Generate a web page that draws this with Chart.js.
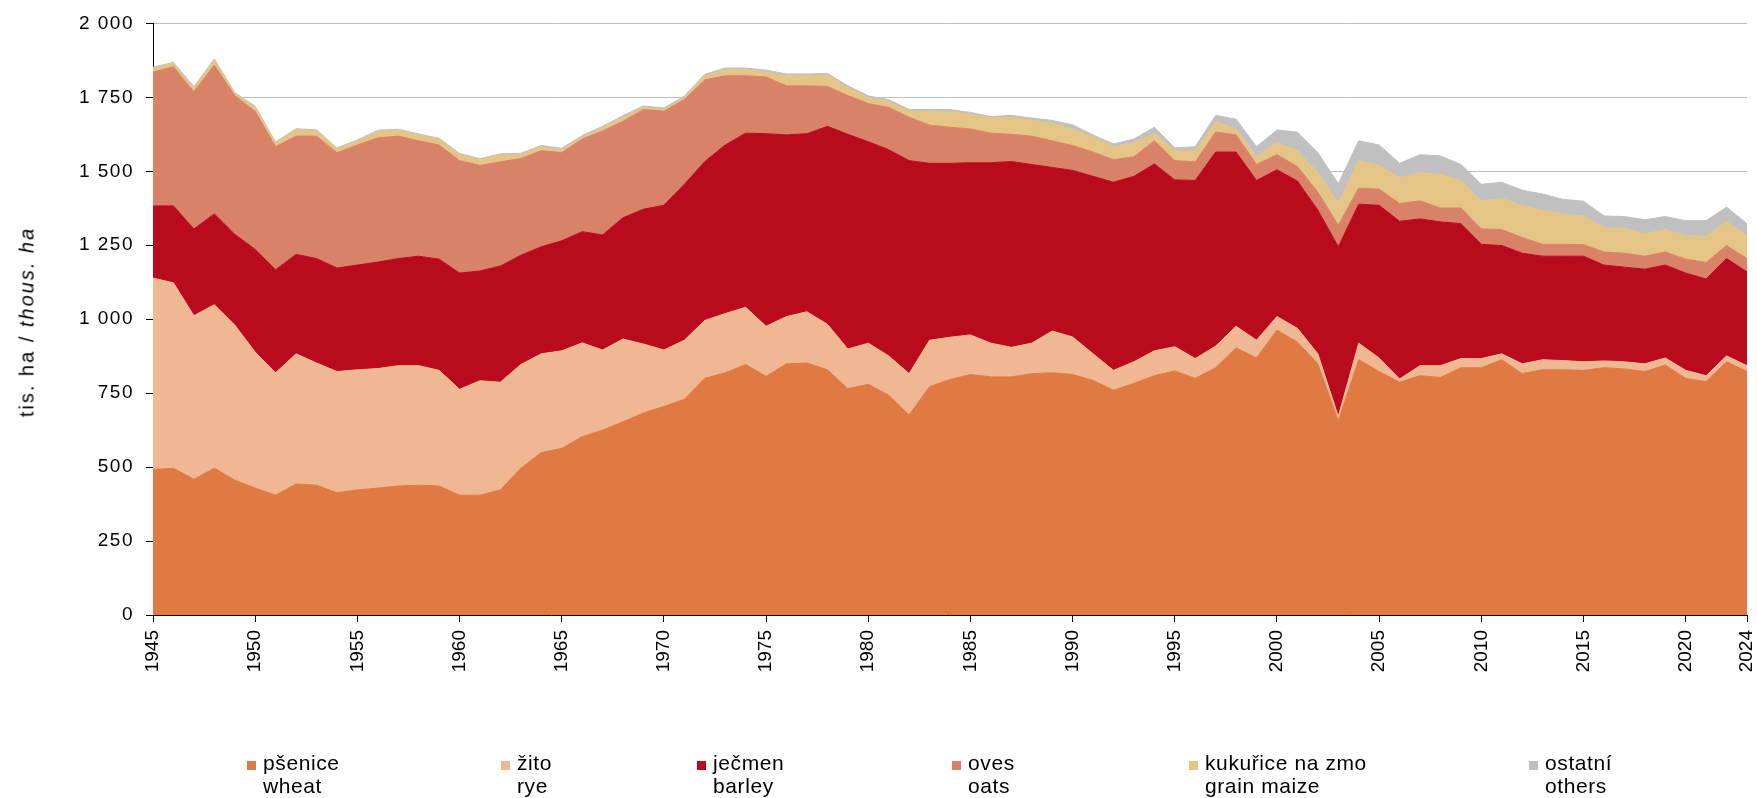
<!DOCTYPE html>
<html><head><meta charset="utf-8">
<script src="https://cdn.jsdelivr.net/npm/chart.js@4"></script>
<style>
html,body{margin:0;padding:0;background:#fff;}
#wrap{position:relative;width:1757px;height:798px;overflow:hidden;}
#c{position:absolute;left:0;top:0;}
.lg{position:absolute;top:751px;font:21px "Liberation Sans",Arial,sans-serif;letter-spacing:0.6px;color:#000;line-height:23px;white-space:nowrap;}
.lg .box{position:absolute;left:-16px;top:10px;width:9px;height:9px;}
#ytitle{position:absolute;left:27px;top:322px;transform:translate(-50%,-50%) rotate(-90deg);white-space:nowrap;font:20px "Liberation Sans",Arial,sans-serif;letter-spacing:2px;color:#000;}
</style></head>
<body>
<div id="wrap">
<canvas id="c" width="1757" height="798"></canvas>
<div id="ytitle">tis. ha / <i>thous. ha</i></div>
<div id="legend"></div>
</div>
<script>
const years = [1945,1946,1947,1948,1949,1950,1951,1952,1953,1954,1955,1956,1957,1958,1959,1960,1961,1962,1963,1964,
1965,1966,1967,1968,1969,1970,1971,1972,1973,1974,1975,1976,1977,1978,1979,1980,1981,1982,1983,1984,
1985,1986,1987,1988,1989,1990,1991,1992,1993,1994,1995,1996,1997,1998,1999,2000,2001,2002,2003,
2004,2005,2006,2007,2008,2009,2010,2011,2012,2013,2014,2015,2016,2017,2018,2019,2020,2022,2023,2024];

const wheat = [492,496,459,496,456,429,405,443,439,413,423,429,436,439,436,405,405,423,496,549,
563,603,625,653,683,705,729,800,819,847,807,849,852,829,765,780,743,676,772,796,
813,805,805,816,819,813,793,760,783,809,825,800,836,903,869,963,923,849,656,
863,823,787,809,803,836,836,863,816,829,829,827,836,832,823,845,800,789,856,823];

const rye = [647,627,553,553,524,460,414,440,413,410,406,404,407,404,391,358,387,364,351,334,
330,317,271,280,233,191,200,196,200,193,169,160,173,154,134,139,133,140,157,143,
134,114,100,103,141,127,90,67,73,84,82,67,73,73,60,46,46,34,15,
56,46,11,34,40,31,31,20,33,34,31,29,23,24,26,24,27,20,20,20];

const barley = [244,260,293,307,307,347,348,336,353,350,354,360,362,370,376,393,371,393,369,362,
372,376,389,410,456,489,527,537,570,589,651,614,602,669,726,681,697,720,598,588,
582,610,628,604,553,563,600,636,627,632,564,602,656,589,540,496,498,486,574,
470,516,533,496,486,456,386,366,374,350,353,357,324,320,320,314,329,327,329,317];

const oats = [453,470,464,503,469,467,416,400,414,390,406,420,414,390,386,380,357,352,327,325,
298,313,351,326,337,318,287,276,234,194,192,166,162,135,131,129,143,147,129,122,
114,100,92,96,90,84,82,76,66,78,65,63,68,58,54,51,49,60,73,
54,55,60,61,47,53,52,54,53,40,40,39,44,47,44,44,47,56,44,45];

const maize = [13,12,14,17,7,13,13,22,18,13,14,23,20,20,20,20,19,23,14,13,
10,7,11,14,7,6,6,14,20,20,17,34,34,38,27,20,20,20,47,54,
50,51,58,53,60,56,51,44,47,26,33,37,34,20,26,40,53,67,73,
93,80,87,96,113,93,95,106,107,116,103,97,82,84,76,76,80,88,80,78];

const others = [3,3,3,4,3,4,3,3,3,3,3,3,3,3,3,4,4,4,4,4,
5,5,5,5,5,5,5,5,6,6,6,6,6,6,6,6,6,6,6,6,
6,5,6,8,9,14,7,9,13,20,10,14,22,33,34,44,63,67,67,
67,69,49,60,63,54,56,54,53,54,49,50,40,40,47,44,50,53,50,40];

const seriesCz = ["pšenice","žito","ječmen","oves","kukuřice na zmo","ostatní"];
const seriesEn = ["wheat","rye","barley","oats","grain maize","others"];
const colors = ["#E07942","#F0B892","#BA0A1E","#DA8267","#E5C586","#C0C0C0"];
const legendX = [263,517,713,968,1205,1545];

const FONT = '"Liberation Sans", Arial, sans-serif';
const values = [wheat, rye, barley, oats, maize, others];

const datasets = values.map((d,i)=>({
  label: seriesCz[i] + " / " + seriesEn[i],
  data: d,
  backgroundColor: colors[i],
  borderColor: colors[i],
  borderWidth: 1,
  pointRadius: 0,
  pointHoverRadius: 0,
  tension: 0,
  fill: i === 0 ? 'origin' : '-1'
}));

const fmt = v => String(v).replace(/\B(?=(\d{3})+(?!\d))/g, ' ');

const spacingPlugin = {
  id: 'ySpacing',
  afterLayout(chart) {
    const s = chart.scales.y;
    if (s._patched) return;
    const orig = s.drawLabels;
    s.drawLabels = function(area) {
      const ctx = this.ctx;
      ctx.save();
      ctx.letterSpacing = '1.5px';
      orig.call(this, area);
      ctx.restore();
    };
    s._patched = true;
  }
};

new Chart(document.getElementById('c'), {
  type: 'line',
  data: { labels: years.map(String), datasets },
  plugins: [spacingPlugin],
  options: {
    responsive: false,
    animation: false,
    devicePixelRatio: 1,
    layout: { padding: { left: 0, right: 10, top: 22, bottom: 0 } },
    plugins: { legend: { display: false }, tooltip: { enabled: false } },
    scales: {
      x: {
        grid: { drawOnChartArea: false, tickLength: 7, tickColor: '#000' },
        border: { color: '#000', width: 1 },
        afterBuildTicks: s => {
          const n = years.length;
          s.ticks = s.ticks.filter(t => years[t.value] % 5 === 0 || t.value === n - 1);
        },
        afterFit: s => { s.height = 183; s.paddingRight = 0; s.paddingLeft = 0; },
        ticks: {
          autoSkip: false, maxRotation: 90, minRotation: 90,
          font: { family: FONT, size: 19 }, color: '#000', padding: 8,
          callback: function(v){ return this.getLabelForValue(v); }
        }
      },
      y: {
        stacked: true, min: 0, max: 2000,
        afterFit: s => { s.width = 153; },
        grid: { color: '#BEBEBE', tickLength: 7, tickColor: '#000', lineWidth: 1 },
        border: { color: '#000', width: 1 },
        ticks: {
          stepSize: 250, font: { family: FONT, size: 19 }, color: '#000', padding: 12,
          callback: v => fmt(v)
        }
      }
    }
  }
});

const lg = document.getElementById('legend');
seriesCz.forEach((t,i)=>{
  const d = document.createElement('div');
  d.className = 'lg';
  d.style.left = legendX[i] + 'px';
  d.innerHTML = '<span class="box" style="background:'+colors[i]+'"></span>' + t + '<br>' + seriesEn[i];
  lg.appendChild(d);
});
</script>
</body></html>
